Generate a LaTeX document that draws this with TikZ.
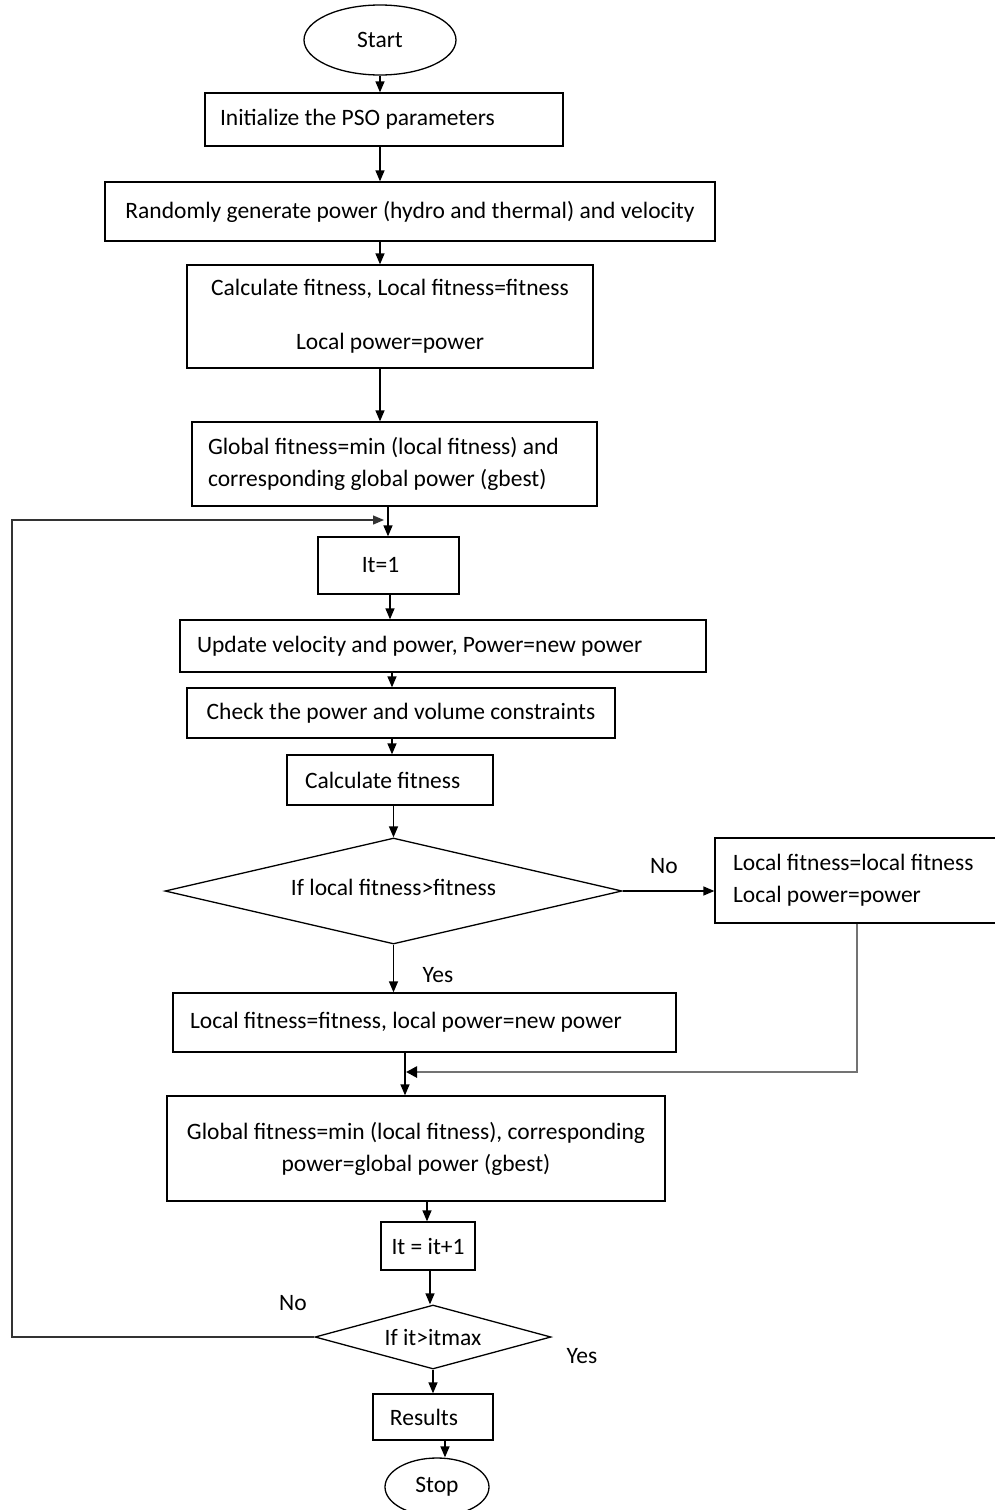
\documentclass[tikz,border=0pt]{standalone}
\usepackage{fontspec}
\setmainfont{Carlito}
\usetikzlibrary{shapes.geometric,arrows.meta}
\begin{document}
\begin{tikzpicture}[x=1pt,y=-1pt,
  every node/.style={font=\fontsize{23.5}{32}\selectfont},
  box/.style={draw, line width=1.3pt, rectangle, inner sep=0pt},
  lbox/.style={box, align=flush left},
  cbox/.style={box, align=center},
  term/.style={draw, line width=1.3pt, ellipse, inner sep=0pt},
  dec/.style={draw, line width=1.3pt, diamond, inner sep=0pt},
  arr/.style={line width=1.3pt, -{Triangle[length=11pt,width=9pt]}},
  garr/.style={line width=2.6pt, draw=black!55, -{Triangle[length=11pt,width=11pt,color=black]}},
  lbl/.style={inner sep=0pt}]
\clip (0,0) rectangle (995,1510);
\fill[white] (0,0) rectangle (995,1510);

% nodes
\node[term, minimum width=152pt, minimum height=70pt] (start) at (380,40) {Start};
\node[lbox, minimum width=358pt, minimum height=53pt, text width=328pt] (init) at (384,119.5) {Initialize the PSO parameters};
\node[cbox, minimum width=610pt, minimum height=59pt] (rand) at (410,211.5) {Randomly generate power (hydro and thermal) and velocity};
\node[cbox, minimum width=406pt, minimum height=103pt] (calc) at (390,316.5) {Calculate fitness, Local fitness=fitness\\[22pt]Local power=power};
\node[lbox, minimum width=405pt, minimum height=84pt, text width=373pt] (glob) at (394.5,464) {Global fitness=min (local fitness) and\\corresponding global power (gbest)};
\node[cbox, minimum width=141pt, minimum height=57pt] (it1) at (388.5,565.5) {It=1\hspace{16pt}};
\node[lbox, minimum width=526pt, minimum height=52pt, text width=492pt] (upd) at (443,646) {Update velocity and power, Power=new power};
\node[cbox, minimum width=428pt, minimum height=50pt] (chk) at (401,713) {Check the power and volume constraints};
\node[lbox, minimum width=206pt, minimum height=50pt, text width=170pt] (cfit) at (390,780) {Calculate fitness};
\node[dec, aspect=4.3, minimum width=457pt, minimum height=106pt] (dec1) at (393.5,891) {\raisebox{7pt}{If local fitness>fitness}};
\node[lbox, minimum width=300pt, minimum height=85pt, text width=264pt] (keep) at (865,880.5) {Local fitness=local fitness\\Local power=power};
\node[lbox, minimum width=503pt, minimum height=59pt, text width=469pt] (loc) at (424.5,1022.5) {\raisebox{5pt}{Local fitness=fitness, local power=new power}};
\node[cbox, minimum width=498pt, minimum height=105pt] (glob2) at (416,1148.5) {Global fitness=min (local fitness), corresponding\\power=global power (gbest)};
\node[cbox, minimum width=94pt, minimum height=48pt] (inc) at (428,1246) {It = it+1};
\node[dec, aspect=3.7, minimum width=236pt, minimum height=64pt] (dec2) at (433,1337) {If it>itmax};
\node[cbox, minimum width=120pt, minimum height=46pt] (res) at (433,1417) {Results\hspace{18pt}};
\node[term, minimum width=104pt, minimum height=58pt] (stop) at (437,1487) {Stop};

% labels
\node[lbl] (no1) at (664,866) {No};
\node[lbl] (yes1) at (438,975) {Yes};
\node[lbl] (no2) at (293,1303) {No};
\node[lbl] (yes2) at (582,1356) {Yes};

% helper coordinates
\coordinate (xa) at (380,0);
\coordinate (xb) at (388,0);
\coordinate (xc) at (390,0);
\coordinate (xd) at (392,0);
\coordinate (xe) at (405,0);
\coordinate (xf) at (427,0);
\coordinate (xg) at (430,0);
\coordinate (xh) at (445,0);
\coordinate (lx) at (12,0);
\coordinate (lp) at (384,520);
\coordinate (gx) at (857,0);
\coordinate (j1) at (857,1072);
\coordinate (j2) at (406,1072);

% connectors
\draw[arr] (start.south) -- (init.north -| start.south);
\draw[arr] (init.south -| xa) -- (rand.north -| xa);
\draw[arr] (rand.south -| xa) -- (calc.north -| xa);
\draw[arr] (calc.south -| xa) -- (glob.north -| xa);
\draw[arr] (glob.south -| xb) -- (it1.north -| xb);
\draw[arr] (it1.south -| xc) -- (upd.north -| xc);
\draw[arr] (upd.south -| xd) -- (chk.north -| xd);
\draw[arr] (chk.south -| xd) -- (cfit.north -| xd);
\draw[arr] (cfit.south -| dec1.north) -- (dec1.north);
\draw[arr] (dec1.east) -- (keep.west |- dec1.east);
\draw[arr] (dec1.south) -- (loc.north -| dec1.south);
\draw[arr] (loc.south -| xe) -- (glob2.north -| xe);
\draw[garr] (keep.south -| gx) -- (j1) -- (j2);
\draw[arr] (glob2.south -| xf) -- (inc.north -| xf);
\draw[arr] (inc.south -| xg) -- (dec2.north -| xg);
\draw[arr] (dec2.south) -- (res.north -| dec2.south);
\draw[arr] (res.south -| xh) -- (stop.north -| xh);
\draw[arr, draw=black!80] (dec2.west) -- (dec2.west -| lx) |- (lp);
\end{tikzpicture}
\end{document}
